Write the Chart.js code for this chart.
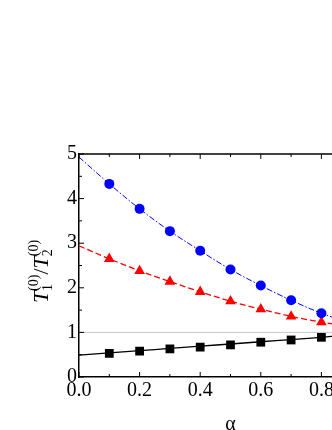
<!DOCTYPE html>
<html lang="en">
<head>
    <meta charset="UTF-8">
    <title>T1/T2 vs alpha</title>
    <style>
        html, body {
            margin: 0;
            padding: 0;
            background: #fff;
            overflow: hidden;
        }
        #wrap {
            position: relative;
            width: 400px;
            height: 430px;
        }
    </style>
    <script src="https://cdn.jsdelivr.net/npm/chart.js"></script>
</head>
<body>
    <div id="wrap"><canvas id="ratioChart" width="400" height="430"></canvas></div>

    <script>
        // alpha values where markers were computed
        const alphaPts = [0.1, 0.2, 0.3, 0.4, 0.5, 0.6, 0.7, 0.8];
        const bluePts  = [4.33, 3.77, 3.27, 2.83, 2.41, 2.05, 1.72, 1.43];
        const redPts   = [2.65, 2.38, 2.14, 1.91, 1.70, 1.52, 1.36, 1.23];
        const blackPts = [0.53, 0.58, 0.63, 0.67, 0.72, 0.78, 0.83, 0.89];

        // curves (incl. the ends)
        const alphaCurve = [0.0, 0.1, 0.2, 0.3, 0.4, 0.5, 0.6, 0.7, 0.8, 0.9, 1.0];
        const blueCurve  = [4.93, 4.33, 3.77, 3.27, 2.83, 2.41, 2.05, 1.72, 1.43, 1.20, 1.0];
        const redCurve   = [2.94, 2.65, 2.38, 2.14, 1.91, 1.70, 1.52, 1.36, 1.23, 1.12, 1.0];
        const blackCurve = [0.49, 0.54, 0.59, 0.64, 0.69, 0.74, 0.79, 0.84, 0.89, 0.95, 1.0];

        // reference line
        const refX = [0, 1];
        const refY = [1, 1];

        const xTicks = [0, 0.2, 0.4, 0.6, 0.8, 1.0];
        const yTicks = [0, 1, 2, 3, 4, 5];

        const toXY = (xs, ys) => xs.map((x, i) => ({ x: x, y: ys[i] }));

        const serif = '"Liberation Serif", "DejaVu Serif", serif';

        // inward ticks, top frame line and the y title with sub/superscripts
        const framePlugin = {
            id: 'frame',
            afterDraw(chart) {
                const ctx = chart.ctx;
                const area = chart.chartArea;
                const xs = chart.scales.x;
                const ys = chart.scales.y;
                ctx.save();
                ctx.strokeStyle = '#000';
                ctx.lineWidth = 1.5;
                ctx.beginPath();
                ctx.moveTo(area.left, area.top);
                ctx.lineTo(area.right, area.top);
                ctx.stroke();

                ctx.lineWidth = 1;
                ctx.beginPath();
                for (let v = 0; v <= 10; v++) {
                    const px = xs.getPixelForValue(v / 10);
                    const len = v % 2 === 0 ? 5 : 3;
                    ctx.moveTo(px, area.bottom);
                    ctx.lineTo(px, area.bottom - len);
                    ctx.moveTo(px, area.top);
                    ctx.lineTo(px, area.top + len);
                }
                for (let v = 0; v <= 10; v++) {
                    const py = ys.getPixelForValue(v / 2);
                    const len = v % 2 === 0 ? 5 : 3;
                    ctx.moveTo(area.left, py);
                    ctx.lineTo(area.left + len, py);
                }
                ctx.stroke();

                // y title: T1^(0) / T2^(0)
                ctx.translate(48, (area.top + area.bottom) / 2 + 6);
                ctx.rotate(-Math.PI / 2);
                ctx.fillStyle = '#000';
                ctx.textBaseline = 'alphabetic';
                const big = 'italic 22px ' + serif;
                const small = '14px ' + serif;
                const parts = [
                    { t: 'T', f: big, dy: 0 },
                    { t: '1', f: small, dy: 4, sub: true },
                    { t: '(0)', f: small, dy: -10, sup: true },
                    { t: '/', f: '22px ' + serif, dy: 0 },
                    { t: 'T', f: big, dy: 0 },
                    { t: '2', f: small, dy: 4, sub: true },
                    { t: '(0)', f: small, dy: -10, sup: true }
                ];
                // measure
                let total = 0;
                let lastSubW = 0;
                const widths = parts.map(p => { ctx.font = p.f; return ctx.measureText(p.t).width; });
                parts.forEach((p, i) => {
                    if (p.sup) { total += Math.max(widths[i] - lastSubW, 0); }
                    else { total += widths[i]; }
                    lastSubW = p.sub ? widths[i] : 0;
                });
                let x = -total / 2;
                let subStart = 0;
                parts.forEach((p, i) => {
                    ctx.font = p.f;
                    if (p.sup) {
                        ctx.fillText(p.t, subStart, p.dy);
                        x = Math.max(x, subStart + widths[i]);
                    } else {
                        if (p.sub) subStart = x;
                        ctx.fillText(p.t, x, p.dy);
                        x += widths[i];
                    }
                });
                ctx.restore();
            }
        };

        const ctx = document.getElementById('ratioChart').getContext('2d');
        new Chart(ctx, {
            type: 'scatter',
            data: {
                datasets: [
                    {
                        label: 'ref',
                        data: toXY(refX, refY),
                        showLine: true,
                        borderColor: '#c8c8c8',
                        borderWidth: 1,
                        pointRadius: 0
                    },
                    {
                        label: 'blue curve',
                        data: toXY(alphaCurve, blueCurve),
                        showLine: true,
                        borderColor: '#0000ff',
                        borderWidth: 1,
                        borderDash: [6, 2, 1.5, 2],
                        cubicInterpolationMode: 'monotone',
                        pointRadius: 0
                    },
                    {
                        label: 'red curve',
                        data: toXY(alphaCurve, redCurve),
                        showLine: true,
                        borderColor: '#ff0000',
                        borderWidth: 1.3,
                        borderDash: [6, 3],
                        cubicInterpolationMode: 'monotone',
                        pointRadius: 0
                    },
                    {
                        label: 'black curve',
                        data: toXY(alphaCurve, blackCurve),
                        showLine: true,
                        borderColor: '#000000',
                        borderWidth: 1.3,
                        cubicInterpolationMode: 'monotone',
                        pointRadius: 0
                    },
                    {
                        label: 'blue',
                        data: toXY(alphaPts, bluePts),
                        pointStyle: 'circle',
                        pointRadius: 5,
                        backgroundColor: '#0000ff',
                        borderColor: '#0000ff',
                        borderWidth: 0
                    },
                    {
                        label: 'red',
                        data: toXY(alphaPts, redPts),
                        pointStyle: 'triangle',
                        pointRadius: 6.2,
                        backgroundColor: '#ff0000',
                        borderColor: '#ff0000',
                        borderWidth: 0
                    },
                    {
                        label: 'black',
                        data: toXY(alphaPts, blackPts),
                        pointStyle: 'rect',
                        pointRadius: 6.2,
                        backgroundColor: '#000000',
                        borderColor: '#000000',
                        borderWidth: 0
                    }
                ]
            },
            options: {
                responsive: false,
                animation: false,
                layout: { padding: { top: 154, right: 18, left: 0, bottom: 0 } },
                plugins: {
                    legend: { display: false },
                    tooltip: { enabled: false },
                    title: { display: false }
                },
                scales: {
                    x: {
                        type: 'linear',
                        min: 0,
                        max: 1,
                        afterFit(scale) { scale.height = 53; },
                        afterBuildTicks(scale) { scale.ticks = xTicks.map(v => ({ value: v })); },
                        ticks: {
                            color: '#000',
                            font: { family: serif, size: 20 },
                            padding: 2,
                            maxRotation: 0,
                            callback: v => v.toFixed(1)
                        },
                        grid: { display: false, drawTicks: false },
                        border: { display: true, color: '#000', width: 1.5 },
                        title: {
                            display: true,
                            text: 'α',
                            color: '#000',
                            font: { family: serif, size: 20 },
                            padding: { top: 0, bottom: -7 }
                        }
                    },
                    y: {
                        type: 'linear',
                        min: 0,
                        max: 5,
                        afterFit(scale) { scale.width = 79; },
                        afterBuildTicks(scale) { scale.ticks = yTicks.map(v => ({ value: v })); },
                        ticks: {
                            color: '#000',
                            font: { family: serif, size: 20 },
                            padding: 2
                        },
                        grid: { display: false, drawTicks: false },
                        border: { display: true, color: '#000', width: 1.5 }
                    }
                }
            },
            plugins: [framePlugin]
        });
    </script>
</body>
</html>
